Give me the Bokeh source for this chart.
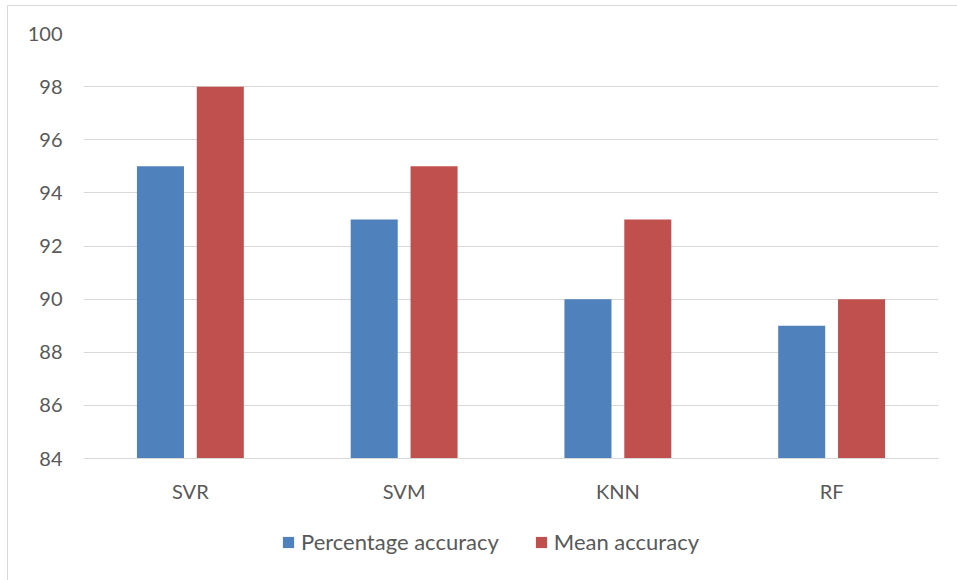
from bokeh.plotting import figure
from bokeh.layouts import column
from bokeh.models import FactorRange, Range1d, Legend, LegendItem, ColumnDataSource
from bokeh.transform import dodge
from bokeh.embed import file_html
from bokeh.resources import INLINE

categories = ["SVR", "SVM", "KNN", "RF"]
percentage_accuracy = [95, 93, 90, 89]
mean_accuracy = [98, 95, 93, 90]
series_names = ["Percentage accuracy", "Mean accuracy"]
series_colors = ["#4F81BD", "#C0504D"]
y_ticks = [84, 86, 88, 90, 92, 94, 96, 98, 100]

FONT = "Lato"
TXT = "#595959"
GRID = "#d9d9d9"

source = ColumnDataSource(dict(cat=categories, pct=percentage_accuracy, mean=mean_accuracy))

p = figure(
    x_range=FactorRange(*categories, range_padding=0),
    y_range=Range1d(84, 100),
    width=949, height=512,
    output_backend="svg", toolbar_location=None,
    min_border_left=75, min_border_right=19, min_border_top=27, min_border_bottom=60,
)

p.vbar(x=dodge("cat", -0.14, range=p.x_range), top="pct", bottom=84, width=0.22,
       source=source, fill_color=series_colors[0], line_color=None)
p.vbar(x=dodge("cat", 0.14, range=p.x_range), top="mean", bottom=84, width=0.22,
       source=source, fill_color=series_colors[1], line_color=None)

p.outline_line_color = None
p.background_fill_color = "white"
p.border_fill_color = "white"

p.xgrid.grid_line_color = None
p.ygrid.grid_line_color = GRID
p.ygrid.grid_line_width = 1
p.yaxis.ticker = y_ticks

p.yaxis.axis_line_color = None
p.yaxis.major_tick_line_color = None
p.yaxis.minor_tick_line_color = None
p.yaxis.major_label_standoff = 15
p.yaxis.major_label_text_font = FONT
p.yaxis.major_label_text_font_size = "20px"
p.yaxis.major_label_text_color = TXT

p.xaxis.axis_line_color = GRID
p.xaxis.major_tick_line_color = None
p.xaxis.minor_tick_line_color = None
p.xaxis.major_label_standoff = 14
p.xaxis.major_label_text_font = FONT
p.xaxis.major_label_text_font_size = "20px"
p.xaxis.major_label_text_color = TXT

# legend strip (hidden copies of the series carry the legend swatches)
p2 = figure(width=949, height=62, x_range=FactorRange(*categories), y_range=Range1d(84, 100),
            output_backend="svg", toolbar_location=None,
            x_axis_location=None, y_axis_location=None,
            min_border=0)
p2.outline_line_color = None
p2.xgrid.visible = False
p2.ygrid.visible = False
l1 = p2.vbar(x="cat", top="pct", bottom=84, width=0.2, source=source,
             fill_color=series_colors[0], line_color=None, visible=False)
l2 = p2.vbar(x="cat", top="mean", bottom=84, width=0.2, source=source,
             fill_color=series_colors[1], line_color=None, visible=False)

legend = Legend(
    items=[LegendItem(label=series_names[0], renderers=[l1]),
           LegendItem(label=series_names[1], renderers=[l2])],
    orientation="horizontal", location=(198, 25),
    padding=0, margin=0, spacing=35, label_standoff=6,
    glyph_width=14, glyph_height=14,
    border_line_color=None, background_fill_alpha=0,
    label_text_font=FONT, label_text_font_size="22px", label_text_color=TXT,
)
p2.add_layout(legend, "center")

layout = column(p, p2, spacing=0)
layout.styles = {"margin-left": "7px", "margin-top": "5px",
                 "border-left": "1px solid #d9d9d9", "border-top": "1px solid #d9d9d9"}

open("out.html", "w").write(file_html(layout, INLINE))
